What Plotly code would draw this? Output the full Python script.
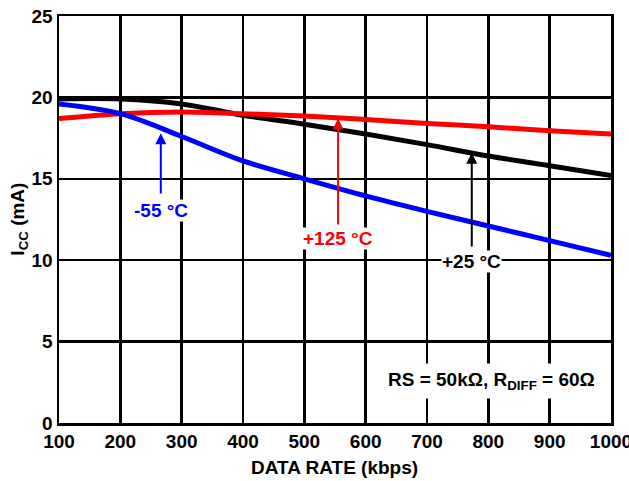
import plotly.graph_objects as go

rate = [100, 200, 300, 400, 500, 600, 700, 800, 900, 1000]
icc_25 = [19.9, 19.9, 19.6, 18.9, 18.35, 17.75, 17.1, 16.4, 15.8, 15.2]
icc_125 = [18.7, 19.0, 19.1, 19.0, 18.85, 18.65, 18.4, 18.2, 17.95, 17.75]
icc_m55 = [19.6, 19.0, 17.6, 16.1, 15.0, 13.95, 13.0, 12.1, 11.2, 10.3]

FONT = "Liberation Sans, Arial, sans-serif"
FS = 19

fig = go.Figure()
fig.add_trace(go.Scatter(x=rate, y=icc_25, mode="lines", line=dict(color="black", width=5, shape="spline"), hoverinfo="skip"))
fig.add_trace(go.Scatter(x=rate, y=icc_125, mode="lines", line=dict(color="#ff0000", width=5, shape="spline"), hoverinfo="skip"))
fig.add_trace(go.Scatter(x=rate, y=icc_m55, mode="lines", line=dict(color="#0000ff", width=5, shape="spline"), hoverinfo="skip"))

arrows = [
    (266, 17.8, 14.0, 13.05, "-55 °C", "#0000ff"),
    (555, 18.7, 12.1, 11.35, "+125 °C", "#ff0000"),
    (773, 16.6, 10.75, 9.95, "+25 °C", "black"),
]
for x, tip, tail, ly, txt, col in arrows:
    fig.add_annotation(x=x, y=tip, ax=x, ay=tail, axref="x", ayref="y", xref="x", yref="y",
                       text="", showarrow=True, arrowhead=2, arrowsize=1.1, arrowwidth=2, arrowcolor=col)
    fig.add_annotation(x=x, y=ly, xref="x", yref="y", text="<b>%s</b>" % txt, showarrow=False,
                       font=dict(family=FONT, size=FS, color=col), bgcolor="white", borderpad=0)

fig.add_annotation(x=0.784, y=2.58, xref="paper", yref="y", xanchor="center", yanchor="middle",
                   text="<b>RS = 50kΩ, R<sub>DIFF</sub> = 60Ω</b>",
                   showarrow=False, font=dict(family=FONT, size=FS, color="black"), bgcolor="white", borderpad=5)

# axis titles
fig.add_annotation(x=0.499, y=-0.11, xref="paper", yref="paper", yanchor="middle", xanchor="center",
                   text="<b>DATA RATE (kbps)</b>", showarrow=False, font=dict(family=FONT, size=FS, color="black"))
fig.add_annotation(x=-0.074, y=0.5, xref="paper", yref="paper", yanchor="middle", xanchor="center", textangle=-90,
                   text="<b>I<sub>CC</sub> (mA)</b>", showarrow=False, font=dict(family=FONT, size=FS, color="black"))

axis_common = dict(showline=True, linecolor="black", linewidth=2.5, mirror=True, showgrid=True,
                   gridcolor="black", gridwidth=2.5, zeroline=False, ticks="", automargin=False,
                   ticklabeloverflow="allow",
                   tickfont=dict(family=FONT, size=FS, color="black"))
fig.update_xaxes(range=[100, 1000], dtick=100, tick0=100, **axis_common)
fig.update_yaxes(range=[0, 25], dtick=5, **axis_common)
fig.update_xaxes(tickprefix="<b>", ticksuffix="</b>")
fig.update_yaxes(tickprefix="<b>", ticksuffix="</b>")

fig.update_layout(width=629, height=481, margin=dict(l=59, r=18, t=16, b=58), plot_bgcolor="white",
                  paper_bgcolor="white", showlegend=False)

post = ("document.body.style.margin='0';document.body.style.overflow='hidden';"
        "document.documentElement.style.overflow='hidden';"
        "document.querySelectorAll('.main-svg').forEach(function(s){s.style.overflow='visible';});")
fig.write_html("out.html", post_script=post, config={"displayModeBar": False, "staticPlot": True})
